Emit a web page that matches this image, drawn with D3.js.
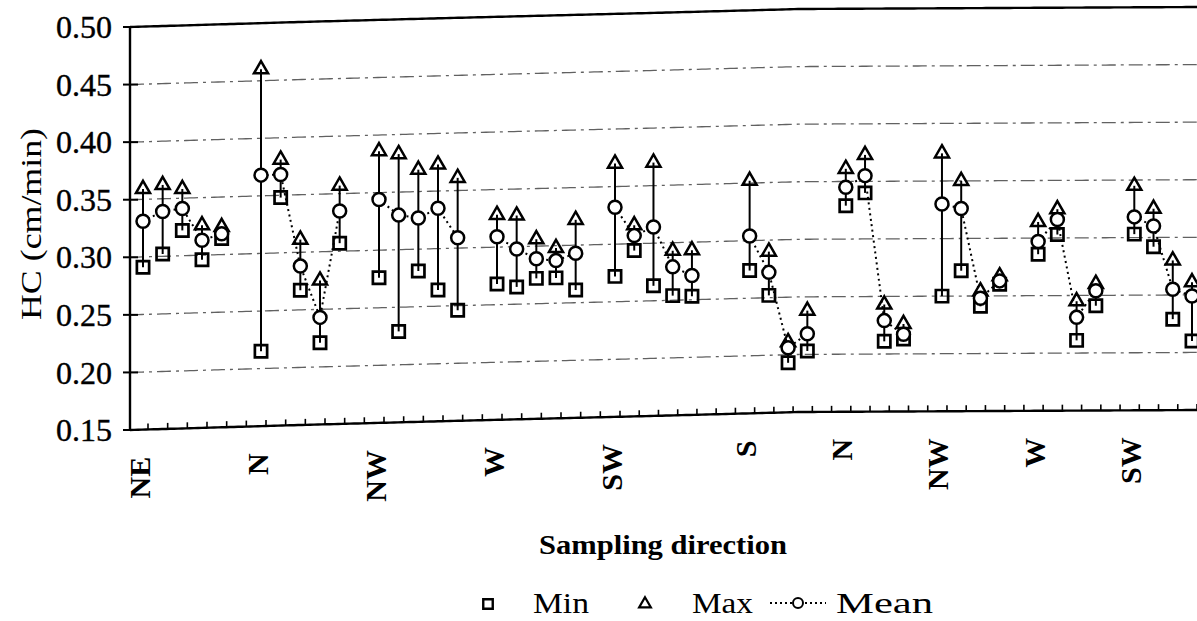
<!DOCTYPE html>
<html>
<head>
<meta charset="utf-8">
<script src="https://cdn.jsdelivr.net/npm/d3@7"></script>
<style>
  body { margin: 0; background: #fff; }
  svg { display: block; }
</style>
</head>
<body>
<svg id="chart" width="1197" height="621"></svg>
<script>
// Sampling directions (one group of samples per direction) and the slot where each group begins
const directions = ["NE", "N", "NW", "W", "SW", "S", "N", "NW", "W", "SW"];
const groupStart = [0, 6, 12, 18, 24, 31, 36, 41, 46, 51];

// Hydraulic conductivity, cm/min
const minHC = [
  [0.291, 0.302, 0.322, 0.296, 0.314],
  [0.215, 0.348, 0.267, 0.221, 0.307],
  [0.276, 0.229, 0.281, 0.264, 0.246],
  [0.268, 0.265, 0.272, 0.272, 0.261],
  [0.272, 0.294, 0.263, 0.254, 0.253],
  [0.274, 0.252, 0.193, 0.203],
  [0.329, 0.340, 0.211, 0.213],
  [0.250, 0.272, 0.241, 0.260],
  [0.286, 0.303, 0.211, 0.241],
  [0.303, 0.292, 0.229, 0.210]
];
const maxHC = [
  [0.359, 0.362, 0.358, 0.326, 0.324],
  [0.460, 0.381, 0.311, 0.275, 0.357],
  [0.386, 0.383, 0.369, 0.373, 0.361],
  [0.328, 0.327, 0.306, 0.298, 0.322],
  [0.370, 0.316, 0.370, 0.293, 0.293],
  [0.352, 0.290, 0.211, 0.238],
  [0.361, 0.373, 0.243, 0.226],
  [0.374, 0.350, 0.254, 0.267],
  [0.314, 0.325, 0.245, 0.260],
  [0.345, 0.325, 0.280, 0.261]
];
const meanHC = [
  [0.331, 0.339, 0.341, 0.313, 0.318],
  [0.368, 0.368, 0.288, 0.243, 0.335],
  [0.344, 0.330, 0.327, 0.335, 0.309],
  [0.309, 0.298, 0.289, 0.287, 0.293],
  [0.332, 0.307, 0.314, 0.279, 0.271],
  [0.304, 0.272, 0.206, 0.218],
  [0.345, 0.355, 0.229, 0.217],
  [0.330, 0.326, 0.248, 0.263],
  [0.297, 0.316, 0.231, 0.254],
  [0.318, 0.310, 0.255, 0.249]
];

const yTickValues = [0.15, 0.20, 0.25, 0.30, 0.35, 0.40, 0.45, 0.50];
const gridValues = [0.20, 0.25, 0.30, 0.35, 0.40, 0.45];
const slotCount = 56;

const svg = d3.select("#chart");
const serif = "'Liberation Serif', 'Times New Roman', serif";

const left = 130, right = 1240;
const y = d3.scaleLinear().domain([0.15, 0.50]).range([430, 27]);
const x = d3.scaleLinear().domain([0, 24, 54]).range([143, 615, 1192]);
// the printed plot frame bows upward toward the right
const sag = d3.scaleLinear()
  .domain([130, 300, 450, 650, 800, 1197])
  .range([0, -5, -9, -14, -18, -20])
  .clamp(true);
const py = (px, v) => y(v) + sag(px);

const samplesX = d3.range(left, right + 1, 4);
const hLine = v => d3.line()(samplesX.map(px => [px, py(px, v)]));

// dashed gridlines
svg.append("g").selectAll("path").data(gridValues).join("path")
  .attr("d", d => hLine(d))
  .attr("fill", "none")
  .attr("stroke", "#3a3a3a")
  .attr("stroke-width", 1.3)
  .attr("stroke-dasharray", "14,5,3,5")
  .attr("opacity", 0.8);

// frame: top border, x axis line, y axis line
svg.append("path").attr("d", hLine(0.50))
  .attr("fill", "none").attr("stroke", "#000").attr("stroke-width", 2.4);
svg.append("path").attr("d", hLine(0.15))
  .attr("fill", "none").attr("stroke", "#000").attr("stroke-width", 2.4);
svg.append("line")
  .attr("x1", left).attr("x2", left)
  .attr("y1", y(0.50)).attr("y2", y(0.15))
  .attr("stroke", "#000").attr("stroke-width", 2.4);

// y ticks crossing the axis, and their labels
const yAxis = svg.append("g");
yAxis.selectAll("line").data(yTickValues).join("line")
  .attr("x1", left - 7).attr("x2", left + 8)
  .attr("y1", d => y(d)).attr("y2", d => y(d))
  .attr("stroke", "#000").attr("stroke-width", 2);
yAxis.selectAll("text").data(yTickValues).join("text")
  .attr("x", 112).attr("y", d => y(d)).attr("dy", "0.35em")
  .attr("text-anchor", "end")
  .attr("font-family", serif).attr("font-size", 32)
  .attr("fill", "#000").attr("stroke", "#000").attr("stroke-width", 0.4)
  .text(d => d.toFixed(2));

// x ticks pointing up into the plot
const xTickPos = d3.range(slotCount).map(i => x(i) + 5);
svg.append("g").selectAll("line").data(xTickPos).join("line")
  .attr("x1", d => d).attr("x2", d => d)
  .attr("y1", d => py(d, 0.15)).attr("y2", d => py(d, 0.15) - 6)
  .attr("stroke", "#000").attr("stroke-width", 1.6);

// direction labels, rotated
svg.append("g").selectAll("text").data(directions).join("text")
  .attr("transform", (d, g) => {
    const cx = x(groupStart[g]) - 4;
    return `translate(${cx},${457 + sag(cx)}) rotate(-90)`;
  })
  .attr("dy", "0.35em")
  .attr("text-anchor", "end")
  .attr("font-family", serif).attr("font-size", 30).attr("font-weight", "bold")
  .attr("fill", "#000")
  .text(d => d);

// flatten the groups into point records
const groups = directions.map((dir, g) => minHC[g].map((mn, i) => {
  const px = x(groupStart[g] + i);
  return {
    px,
    yMin: py(px, mn),
    yMax: py(px, maxHC[g][i]),
    yMean: py(px, meanHC[g][i])
  };
}));
const points = groups.flat();

const plot = svg.append("g");

// dotted line joining the means within a direction
plot.selectAll("path.mean").data(groups).join("path")
  .attr("class", "mean")
  .attr("d", grp => d3.line().x(p => p.px).y(p => p.yMean)(grp))
  .attr("fill", "none")
  .attr("stroke", "#000")
  .attr("stroke-width", 2)
  .attr("stroke-dasharray", "2,3.5");

// min-max range lines
plot.selectAll("line.range").data(points).join("line")
  .attr("class", "range")
  .attr("x1", p => p.px).attr("x2", p => p.px)
  .attr("y1", p => p.yMin).attr("y2", p => p.yMax)
  .attr("stroke", "#000").attr("stroke-width", 2);

const squareSym = d3.symbol(d3.symbolSquare, 150);
const triSym = d3.symbol(d3.symbolTriangle, 86);

plot.selectAll("path.min").data(points).join("path")
  .attr("class", "min")
  .attr("transform", p => `translate(${p.px},${p.yMin})`)
  .attr("d", squareSym)
  .attr("fill", "none").attr("stroke", "#000").attr("stroke-width", 2.7);

plot.selectAll("path.max").data(points).join("path")
  .attr("class", "max")
  .attr("transform", p => `translate(${p.px},${p.yMax})`)
  .attr("d", triSym)
  .attr("fill", "none").attr("stroke", "#000").attr("stroke-width", 2.5)
  .attr("stroke-linejoin", "miter");

plot.selectAll("circle.avg").data(points).join("circle")
  .attr("class", "avg")
  .attr("cx", p => p.px).attr("cy", p => p.yMean).attr("r", 6.5)
  .attr("fill", "#fff").attr("stroke", "#000").attr("stroke-width", 2.5);

// axis titles
svg.append("text")
  .attr("transform", "translate(30,224) rotate(-90)")
  .attr("dy", "0.35em")
  .attr("text-anchor", "middle")
  .attr("font-family", serif).attr("font-size", 30)
  .attr("textLength", 192).attr("lengthAdjust", "spacingAndGlyphs")
  .attr("fill", "#000")
  .text("HC (cm/min)");

svg.append("text")
  .attr("x", 663).attr("y", 554)
  .attr("text-anchor", "middle")
  .attr("font-family", serif).attr("font-size", 28).attr("font-weight", "bold")
  .attr("textLength", 248).attr("lengthAdjust", "spacingAndGlyphs")
  .attr("fill", "#000")
  .text("Sampling direction");

// legend
const legend = svg.append("g");
const legendY = 604;
legend.append("path")
  .attr("transform", `translate(488,${legendY})`)
  .attr("d", d3.symbol(d3.symbolSquare, 90))
  .attr("fill", "none").attr("stroke", "#000").attr("stroke-width", 2.4);
legend.append("path")
  .attr("transform", `translate(645,${legendY})`)
  .attr("d", d3.symbol(d3.symbolTriangle, 60))
  .attr("fill", "none").attr("stroke", "#000").attr("stroke-width", 2.2);
legend.append("line")
  .attr("x1", 770).attr("x2", 826).attr("y1", legendY - 1).attr("y2", legendY - 1)
  .attr("stroke", "#000").attr("stroke-width", 1.8).attr("stroke-dasharray", "2,3");
legend.append("circle")
  .attr("cx", 798).attr("cy", legendY - 1).attr("r", 5)
  .attr("fill", "#fff").attr("stroke", "#000").attr("stroke-width", 2);

const legendText = [
  { label: "Min", x: 533, len: 56 },
  { label: "Max", x: 692, len: 61 },
  { label: "Mean", x: 836, len: 97 }
];
legend.selectAll("text").data(legendText).join("text")
  .attr("x", d => d.x).attr("y", 613)
  .attr("font-family", serif).attr("font-size", 29)
  .attr("textLength", d => d.len).attr("lengthAdjust", "spacingAndGlyphs")
  .attr("fill", "#000")
  .text(d => d.label);
</script>
</body>
</html>
